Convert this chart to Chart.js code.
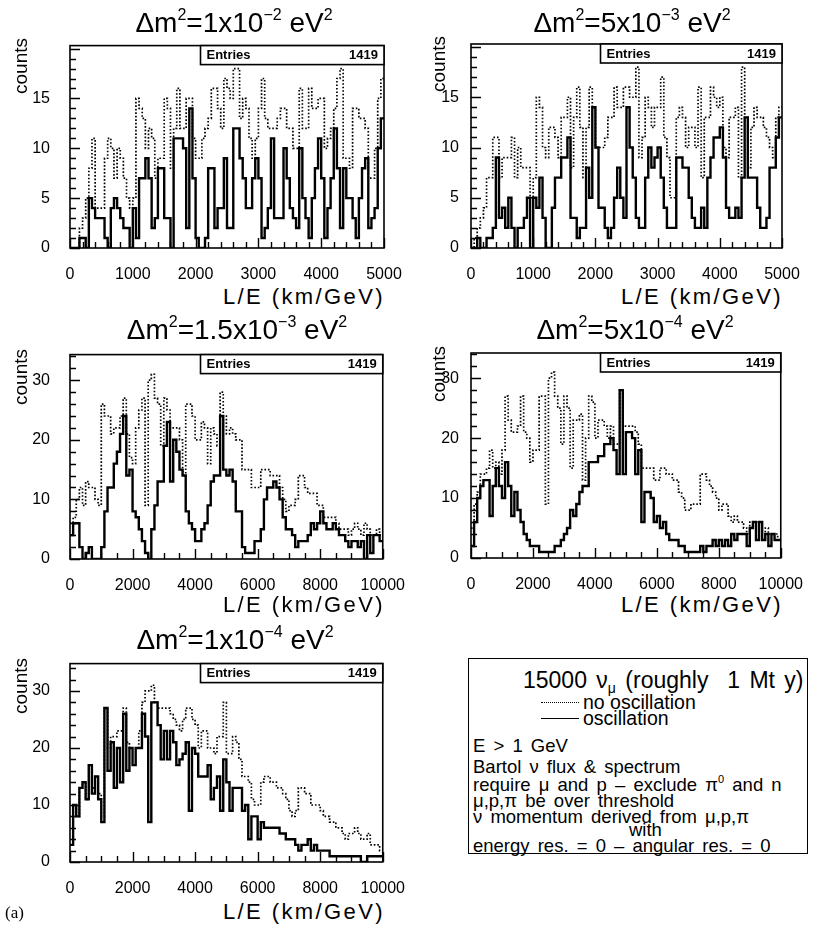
<!DOCTYPE html>
<html>
<head>
<meta charset="utf-8">
<title>L/E distributions</title>
<script src="https://cdn.jsdelivr.net/npm/chart.js@4.4.1/dist/chart.umd.min.js"></script>
<style>
html,body{margin:0;padding:0;background:#fff}
#page{position:relative;width:813px;height:929px;overflow:hidden;font-family:"Liberation Sans",Arial,sans-serif;color:#000}
canvas{position:absolute}
.title{position:absolute;font-size:28px;line-height:28px;white-space:nowrap;transform:translateX(-50%)}
.title sup{font-size:16px;line-height:0;vertical-align:12px}
.ylab{position:absolute;font-size:19px;line-height:19px;white-space:nowrap;transform-origin:0 0;transform:rotate(-90deg)}
.xlab{position:absolute;font-size:22px;line-height:22px;letter-spacing:2.4px;white-space:nowrap}
#legend{position:absolute;left:468px;top:658px;width:340px;height:196px;border:1.5px solid #000;box-sizing:border-box;font-size:18.5px;line-height:18px;word-spacing:3px}
#legend div{position:absolute;white-space:nowrap}
#legend .big{font-size:23px;line-height:22px;word-spacing:3px}
#legend .small{font-size:19.5px;line-height:17px;word-spacing:0}
#legend sub{font-size:14px;line-height:0;vertical-align:-5px}
#legend sup{font-size:11px;line-height:0;vertical-align:8px}
.tag{position:absolute;left:5px;top:903px;font:17px "Liberation Serif","Times New Roman",serif}
</style>
</head>
<body>
<div id="page">
<canvas id="c0"></canvas>
<canvas id="c1"></canvas>
<canvas id="c2"></canvas>
<canvas id="c3"></canvas>
<canvas id="c4"></canvas>

<div class="title" style="left:234px;top:9px">&Delta;m<sup>2</sup>=1x10<sup>&minus;2</sup> eV<sup>2</sup></div>
<div class="title" style="left:632px;top:9px">&Delta;m<sup>2</sup>=5x10<sup>&minus;3</sup> eV<sup>2</sup></div>
<div class="title" style="left:237px;top:316px">&Delta;m<sup>2</sup>=1.5x10<sup>&minus;3</sup> eV<sup>2</sup></div>
<div class="title" style="left:635px;top:316px">&Delta;m<sup>2</sup>=5x10<sup>&minus;4</sup> eV<sup>2</sup></div>
<div class="title" style="left:235px;top:626px">&Delta;m<sup>2</sup>=1x10<sup>&minus;4</sup> eV<sup>2</sup></div>

<div class="ylab" style="left:11px;top:94px">counts</div>
<div class="ylab" style="left:429px;top:92px">counts</div>
<div class="ylab" style="left:11px;top:405px">counts</div>
<div class="ylab" style="left:429px;top:402px">counts</div>
<div class="ylab" style="left:11px;top:714px">counts</div>

<div class="xlab" style="right:428px;top:286px">L/E (km/GeV)</div>
<div class="xlab" style="right:30px;top:286px">L/E (km/GeV)</div>
<div class="xlab" style="right:428px;top:594px">L/E (km/GeV)</div>
<div class="xlab" style="right:30px;top:594px">L/E (km/GeV)</div>
<div class="xlab" style="right:428px;top:901px">L/E (km/GeV)</div>

<div id="legend">
  <div class="big" style="left:54px;top:10px">15000 &nu;<sub>&mu;</sub> (roughly&nbsp; 1 Mt y)</div>
  <div style="left:72px;top:43px;width:38px;border-top:1.5px dotted #000"></div>
  <div class="small" style="left:114px;top:35px">no oscillation</div>
  <div style="left:72px;top:59px;width:38px;border-top:1.5px solid #000"></div>
  <div class="small" style="left:114px;top:51px">oscillation</div>
  <div style="left:4px;top:78px">E &gt; 1 GeV</div>
  <div style="left:4px;top:99px">Bartol &nu; flux &amp; spectrum</div>
  <div style="left:4px;top:117px">require &mu; and p &ndash; exclude &pi;<sup>0</sup> and n</div>
  <div style="left:4px;top:133px">&mu;,p,&pi; be over threshold</div>
  <div style="left:4px;top:149px">&nu; momentum derived from &mu;,p,&pi;</div>
  <div style="left:160px;top:162px">with</div>
  <div style="left:4px;top:178px">energy res. = 0 &ndash; angular res. = 0</div>
</div>

<div class="tag">(a)</div>
</div>

<script>
// tick labels
const xTicksTop = [0, 1000, 2000, 3000, 4000, 5000];
const xTicksLow = [0, 2000, 4000, 6000, 8000, 10000];
const yTicksTop = [0, 5, 10, 15];
const yTicksLow = [0, 10, 20, 30];
const entries = [1419, 1419, 1419, 1419, 1419];

// dm2 = 1e-2, 50 km/GeV bins
const osc1 = [0,0,0,1,1,0,5,4,3,3, 3,1,0,4,5,4,3,2,2,0, 4,1,7,7,9,7,2,3,8,8, 3,3,0,11,11,11,10,2,14,7, 1,0,0,1,8,8,2,4,4,9, 2,2,12,12,9,7,4,4,7,9, 7,1,2,4,11,3,3,3,10,7, 4,3,2,10,5,3,1,5,8,11, 7,1,4,7,12,8,2,8,5,5, 3,1,5,8,9,2,3,4,10,13];
const noOsc1 = [0,0,0,2,3,5,8,11,4,4, 4,9,11,10,7,10,9,7,5,4, 5,15,14,13,10,12,11,7,9,9, 15,14,8,12,16,12,12,15,15,11, 9,9,11,12,13,16,16,14,12,17, 16,15,18,18,13,15,14,11,9,11, 14,17,13,12,12,12,13,14,14,12, 12,10,10,16,12,12,16,14,14,15, 15,10,11,12,14,17,18,9,9,8, 14,14,13,13,12,7,7,10,15,17];

// dm2 = 5e-3, 50 km/GeV bins
const osc2 = [0,0,1,0,0,1,1,2,9,3, 4,2,5,2,0,2,2,3,5,0, 5,4,7,3,0,0,4,7,7,9, 9,11,3,3,1,2,2,8,5,14, 10,4,4,2,1,2,5,8,5,3, 14,10,7,3,2,2,7,10,8,9, 10,7,4,2,2,2,9,9,8,8, 5,3,2,2,4,2,7,9,11,11, 12,9,4,3,3,4,3,7,13,7, 7,7,4,2,2,3,8,8,11,13];
const noOsc2 = [0,1,2,3,4,7,7,11,11,7, 9,9,9,11,7,10,8,8,8,5, 7,15,14,10,9,12,12,11,9,13, 13,15,8,13,16,12,7,12,16,14, 10,10,10,11,13,13,16,14,14,16, 16,15,15,18,9,11,15,14,12,14, 14,17,11,9,5,5,13,14,13,10, 12,12,10,16,7,13,13,16,15,14, 15,10,9,13,13,14,7,18,13,8, 12,14,13,13,12,11,10,9,13,14];

// dm2 = 1.5e-3, 100 km/GeV bins
const osc3 = [4,6,6,2,0,1,2,0,0,0, 2,8,12,12,16,18,21,24,14,15, 8,7,5,3,1,0,5,9,13,13, 19,23,13,20,18,15,14,8,6,5, 3,3,5,6,9,13,14,14,24,15, 14,15,13,8,8,2,1,1,1,3, 3,5,10,12,12,13,12,10,7,5, 5,4,2,3,3,3,4,6,5,6, 8,6,5,5,6,5,4,4,3,2, 3,3,2,3,0,4,1,4,4,3];
const noOsc3 = [6,7,10,12,9,13,12,12,10,9, 26,24,24,21,22,22,24,27,21,17, 16,22,25,27,9,30,31,27,26,19, 27,25,22,22,22,20,14,26,26,24, 20,20,23,22,16,22,21,19,28,24, 21,22,21,20,20,15,15,15,12,12, 12,15,15,15,14,14,14,12,10,8, 9,9,10,14,14,12,11,11,11,9, 9,7,7,7,7,6,5,5,5,4, 5,6,5,4,6,5,4,4,5,4];

// dm2 = 5e-4, 100 km/GeV bins
const osc4 = [2,6,10,12,13,13,7,12,15,12, 10,16,12,7,11,8,6,4,3,2, 2,2,1,1,1,1,1,2,2,3, 4,5,8,7,9,11,12,12,16,16, 16,17,17,19,19,20,18,14,28,14, 21,21,20,14,18,6,11,11,10,6, 7,5,6,4,3,3,3,2,2,1, 1,1,1,1,2,1,2,2,3,2, 3,2,3,2,4,3,4,4,4,2, 5,6,3,6,3,4,2,4,3,3];
const noOsc4 = [5,9,11,14,14,15,18,15,16,14, 18,27,23,21,21,22,27,21,20,16, 18,18,27,27,9,30,31,27,25,19, 27,25,15,23,23,24,13,20,27,26, 20,23,23,22,20,22,19,19,28,22, 22,22,22,21,19,15,15,15,15,13, 13,15,15,14,14,13,13,11,10,8, 8,9,9,9,14,14,13,12,11,10, 8,9,9,7,6,7,6,6,5,4, 6,6,6,6,3,5,4,4,4,3];

// dm2 = 1e-4, 100 km/GeV bins
const osc5 = [3,10,8,13,14,11,17,12,15,11, 7,27,16,21,13,20,14,26,16,20, 17,20,20,26,22,7,28,28,24,18, 23,18,23,21,17,18,19,21,9,20, 19,15,15,15,17,11,13,15,9,18, 14,9,13,13,13,9,10,4,8,8, 4,7,6,6,6,6,6,5,5,4, 4,4,3,2,3,3,4,2,3,2, 2,2,2,1,1,1,1,1,1,1, 1,1,1,0,0,1,1,1,1,1];
const noOsc5 = [3,10,8,13,14,11,17,13,15,12, 8,27,20,22,22,23,23,27,21,20, 20,20,23,28,30,30,31,28,27,27, 27,27,26,25,24,23,25,27,27,25, 24,20,23,23,20,20,19,22,22,28, 19,19,22,21,18,15,15,14,11,10, 10,14,15,15,14,14,13,13,12,11, 9,8,9,13,13,12,12,10,10,10, 9,8,8,7,7,6,6,5,4,5, 5,6,5,4,4,5,3,3,3,2];

// frame of each pad on the page (left, top, right, bottom) and gap to its y labels
const frames = [
  {l: 70, t: 44, r: 384, b: 248, labelGap: 12},
  {l: 471, t: 44, r: 782, b: 248, labelGap: 4},
  {l: 70, t: 353, r: 384, b: 559, labelGap: 12},
  {l: 471, t: 353, r: 782, b: 558, labelGap: 4},
  {l: 70, t: 662, r: 384, b: 862, labelGap: 12}
];

const panels = [
  {osc: osc1, noOsc: noOsc1, bin: 50, xMax: 5000, yMax: 20.3, xTicks: xTicksTop, yTicks: yTicksTop, xMinor: 200, xMajor: 1000, yMinor: 1, yMajor: 5},
  {osc: osc2, noOsc: noOsc2, bin: 50, xMax: 5000, yMax: 20.3, xTicks: xTicksTop, yTicks: yTicksTop, xMinor: 200, xMajor: 1000, yMinor: 1, yMajor: 5},
  {osc: osc3, noOsc: noOsc3, bin: 100, xMax: 10000, yMax: 34.3, xTicks: xTicksLow, yTicks: yTicksLow, xMinor: 500, xMajor: 2000, yMinor: 2, yMajor: 10},
  {osc: osc4, noOsc: noOsc4, bin: 100, xMax: 10000, yMax: 34.2, xTicks: xTicksLow, yTicks: yTicksLow, xMinor: 500, xMajor: 2000, yMinor: 2, yMajor: 10},
  {osc: osc5, noOsc: noOsc5, bin: 100, xMax: 10000, yMax: 34.8, xTicks: xTicksLow, yTicks: yTicksLow, xMinor: 500, xMajor: 2000, yMinor: 2, yMajor: 10}
];

const FONT = '"Liberation Sans", Arial, sans-serif';
const PAD_L = 48, PAD_T = 20, PAD_R = 30, PAD_B = 34;

// bin contents -> step points at the low edge of every bin, plus the last upper edge
function histPoints(vals, w) {
  const pts = vals.map((v, i) => ({x: i * w, y: v}));
  pts.push({x: vals.length * w, y: vals[vals.length - 1]});
  return pts;
}

// frame, inward ticks and the statistics box
const pawFrame = {
  id: 'pawFrame',
  afterDatasetsDraw(chart, args, o) {
    const {ctx, chartArea: a, scales: {x, y}} = chart;
    ctx.save();
    ctx.strokeStyle = '#000';
    ctx.lineWidth = 1.4;
    ctx.beginPath();
    for (let i = 0; i * o.xMinor <= x.max; i++) {
      const v = i * o.xMinor;
      const px = Math.round(x.getPixelForValue(v)) + 0.5;
      const len = v % o.xMajor === 0 ? 10 : 6;
      ctx.moveTo(px, a.bottom);
      ctx.lineTo(px, a.bottom - len);
    }
    for (let i = 0; i * o.yMinor <= y.max; i++) {
      const v = i * o.yMinor;
      const py = Math.round(y.getPixelForValue(v)) + 0.5;
      const len = v % o.yMajor === 0 ? 10 : 6;
      ctx.moveTo(a.left, py);
      ctx.lineTo(a.left + len, py);
    }
    ctx.stroke();

    ctx.lineWidth = 1.6;
    ctx.strokeRect(a.left, a.top, a.right - a.left, a.bottom - a.top);

    const bx = Math.round(a.left + (a.right - a.left) * 0.415) + 0.5;
    ctx.fillStyle = '#fff';
    ctx.fillRect(bx, a.top, a.right - bx, 19);
    ctx.strokeRect(bx, a.top, a.right - bx, 19);
    ctx.fillStyle = '#000';
    ctx.font = 'bold 13px ' + FONT;
    ctx.textBaseline = 'middle';
    ctx.textAlign = 'left';
    ctx.fillText('Entries', bx + 6, a.top + 10);
    ctx.textAlign = 'right';
    ctx.fillText(String(o.entries), a.right - 6, a.top + 10);
    ctx.restore();
  }
};

panels.forEach((p, i) => {
  const f = frames[i];
  const cv = document.getElementById('c' + i);
  cv.width = PAD_L + (f.r - f.l) + PAD_R;
  cv.height = PAD_T + (f.b - f.t) + PAD_B;
  cv.style.left = (f.l - PAD_L) + 'px';
  cv.style.top = (f.t - PAD_T) + 'px';

  new Chart(cv, {
    type: 'line',
    data: {
      datasets: [
        {
          label: 'oscillation',
          data: histPoints(p.osc, p.bin),
          stepped: 'before',
          borderColor: '#000',
          borderWidth: 2.4,
          pointRadius: 0,
          fill: false
        },
        {
          label: 'no oscillation',
          data: histPoints(p.noOsc, p.bin),
          stepped: 'before',
          borderColor: '#000',
          borderWidth: 1.7,
          borderDash: [1.6, 1.9],
          pointRadius: 0,
          fill: false
        }
      ]
    },
    options: {
      responsive: false,
      animation: false,
      layout: {padding: {left: 0, top: PAD_T, right: PAD_R, bottom: 0}},
      plugins: {
        legend: {display: false},
        tooltip: {enabled: false},
        pawFrame: {xMinor: p.xMinor, xMajor: p.xMajor, yMinor: p.yMinor, yMajor: p.yMajor, entries: entries[i]}
      },
      scales: {
        x: {
          type: 'linear',
          min: 0,
          max: p.xMax,
          afterBuildTicks: s => { s.ticks = p.xTicks.map(v => ({value: v})); },
          afterFit: s => { s.height = PAD_B; },
          grid: {display: false},
          border: {display: false},
          ticks: {autoSkip: false, maxRotation: 0, padding: 9, color: '#000', font: {family: FONT, size: 16}, callback: v => String(v)}
        },
        y: {
          type: 'linear',
          min: 0,
          max: p.yMax,
          afterBuildTicks: s => { s.ticks = p.yTicks.map(v => ({value: v})); },
          afterFit: s => { s.width = PAD_L; },
          grid: {display: false},
          border: {display: false},
          ticks: {padding: f.labelGap, color: '#000', font: {family: FONT, size: 16}, callback: v => String(v)}
        }
      }
    },
    plugins: [pawFrame]
  });
});
</script>
</body>
</html>
